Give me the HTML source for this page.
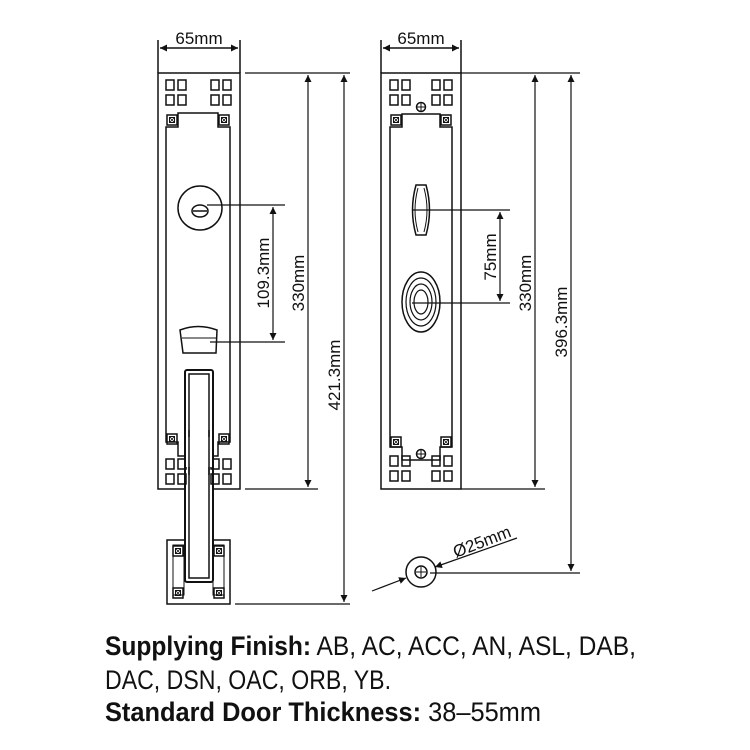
<!DOCTYPE html>
<html><head><meta charset="utf-8"><style>
html,body{margin:0;padding:0;background:#fff;}
svg{display:block;}
text{font-family:"Liberation Sans Narrow","Liberation Sans",sans-serif;fill:#111;}
</style></head><body>
<svg width="750" height="750" viewBox="0 0 750 750" xmlns="http://www.w3.org/2000/svg">
<defs>
<marker id="a" viewBox="0 0 10 10" refX="10" refY="5" markerWidth="7" markerHeight="16" orient="auto-start-reverse" markerUnits="userSpaceOnUse"><path d="M0,0 L10,5 L0,10 z" fill="#111"/></marker>
<g id="sq"><rect x="0" y="0" width="8" height="10" fill="none" stroke="#111" stroke-width="1.5"/><rect x="12" y="0" width="8" height="10" fill="none" stroke="#111" stroke-width="1.5"/><rect x="0" y="15" width="8" height="10" fill="none" stroke="#111" stroke-width="1.5"/><rect x="12" y="15" width="8" height="10" fill="none" stroke="#111" stroke-width="1.5"/></g>
<g id="scr"><rect x="0" y="0" width="10" height="10" fill="none" stroke="#111" stroke-width="1.5"/><rect x="2.5" y="2.5" width="5" height="5" fill="none" stroke="#111" stroke-width="1"/><path d="M2.5,2.5 L7.5,7.5 M7.5,2.5 L2.5,7.5" stroke="#111" stroke-width="0.8"/></g>
</defs>
<g stroke="#111" stroke-width="1.5" fill="none">
<rect x="158" y="73" width="82" height="416"/>
<line x1="158" y1="40" x2="158" y2="73"/><line x1="240" y1="40" x2="240" y2="73"/>
<line x1="160" y1="48" x2="238" y2="48" marker-start="url(#a)" marker-end="url(#a)"/>
<path d="M166,442 L166,127 L178,127 L178,113 L218,113 L218,127 L230,127 L230,442 L218,442 L218,456 L178,456 L178,442 Z"/>
<circle cx="200" cy="208" r="22"/>
<ellipse cx="200" cy="211" rx="8" ry="6"/>
<line x1="193" y1="211" x2="207" y2="211"/>
<line x1="207" y1="205" x2="285" y2="205" stroke-width="1.2"/>
<path d="M180,330 Q198,323 217,330 L216,353 L183,353 Z"/>
<line x1="182" y1="338" x2="216" y2="338" stroke-width="1"/>
<line x1="210" y1="342" x2="285" y2="342" stroke-width="1.2"/>
<line x1="273" y1="207" x2="273" y2="340" marker-start="url(#a)" marker-end="url(#a)" stroke-width="1.2"/>
<line x1="245" y1="73" x2="350" y2="73" stroke-width="1.2"/>
<line x1="245" y1="489" x2="318" y2="489" stroke-width="1.2"/>
<line x1="308" y1="75" x2="308" y2="487" marker-start="url(#a)" marker-end="url(#a)" stroke-width="1.2"/>
<line x1="235" y1="604" x2="350" y2="604" stroke-width="1.2"/>
<line x1="344" y1="75" x2="344" y2="602" marker-start="url(#a)" marker-end="url(#a)" stroke-width="1.2"/>
<rect x="167" y="540" width="63" height="64" fill="#fff"/>
<path d="M173,545 L184,545 L184,595 L173,595 Z M213,545 L224,545 L224,595 L213,595 Z" stroke-width="1"/>
<rect x="185" y="370" width="28" height="212" rx="2" fill="#fff" stroke-width="2"/>
<rect x="189" y="374" width="20" height="204" fill="#fff"/>
</g>
<use href="#sq" x="166" y="80"/><use href="#sq" x="211" y="80"/>
<use href="#sq" x="166" y="459"/><use href="#sq" x="211" y="459"/>
<use href="#scr" x="167" y="115"/><use href="#scr" x="219" y="115"/>
<use href="#scr" x="167" y="434"/><use href="#scr" x="219" y="434"/>
<use href="#scr" x="173" y="546"/><use href="#scr" x="214" y="546"/>
<use href="#scr" x="173" y="588"/><use href="#scr" x="214" y="588"/>
<rect x="185" y="437" width="28" height="30" fill="#fff"/>
<g stroke="#111" fill="none"><line x1="185" y1="430" x2="185" y2="475" stroke-width="2"/><line x1="213" y1="430" x2="213" y2="475" stroke-width="2"/><line x1="189" y1="430" x2="189" y2="475" stroke-width="1.5"/><line x1="209" y1="430" x2="209" y2="475" stroke-width="1.5"/></g>

<g stroke="#111" stroke-width="1.5" fill="none">
<rect x="381" y="73" width="80" height="416"/>
<line x1="381" y1="40" x2="381" y2="73"/><line x1="461" y1="40" x2="461" y2="73"/>
<line x1="383" y1="48" x2="459" y2="48" marker-start="url(#a)" marker-end="url(#a)"/>
<path d="M390,447 L390,127 L402,127 L402,114 L440,114 L440,127 L452,127 L452,447 L440,447 L440,460 L402,460 L402,447 Z"/>
<circle cx="421" cy="107" r="4.5"/><path d="M416.5,107 h9 M421,102.5 v9" stroke-width="1"/>
<circle cx="421" cy="454" r="4.5"/><path d="M416.5,454 h9 M421,449.5 v9" stroke-width="1"/>
<path d="M416,185 L426,185 Q433,210 426,235 L416,235 Q409,210 416,185 Z"/>
<path d="M418,188 Q412,210 418,232 M424,188 Q430,210 424,232" stroke-width="1"/>
<line x1="412" y1="210" x2="510" y2="210" stroke-width="1.2"/>
<line x1="500" y1="212" x2="500" y2="301" marker-start="url(#a)" marker-end="url(#a)" stroke-width="1.2"/>
<ellipse cx="421" cy="302" rx="19" ry="30"/>
<ellipse cx="421" cy="302" rx="15" ry="24" stroke-width="1.2"/>
<ellipse cx="421" cy="302" rx="11" ry="18" stroke-width="1.2"/>
<ellipse cx="421" cy="302" rx="7" ry="12" stroke-width="1.2"/>
<line x1="412" y1="303" x2="510" y2="303" stroke-width="1.2"/>
<line x1="461" y1="73" x2="580" y2="73" stroke-width="1.2"/>
<line x1="461" y1="489" x2="545" y2="489" stroke-width="1.2"/>
<line x1="535" y1="75" x2="535" y2="487" marker-start="url(#a)" marker-end="url(#a)" stroke-width="1.2"/>
<line x1="430" y1="573" x2="580" y2="573" stroke-width="1.2"/>
<line x1="571" y1="75" x2="571" y2="571" marker-start="url(#a)" marker-end="url(#a)" stroke-width="1.2"/>
<circle cx="421" cy="572" r="15"/>
<circle cx="421" cy="572" r="6"/>
<path d="M416,572 h10 M421,567 v10" stroke-width="1"/>
<line x1="372" y1="591" x2="406" y2="578" marker-end="url(#a)" stroke-width="1.2"/>
<line x1="517" y1="538" x2="435" y2="567" marker-end="url(#a)" stroke-width="1.2"/>
</g>
<use href="#sq" x="390" y="80"/><use href="#sq" x="432" y="80"/>
<use href="#sq" x="390" y="456"/><use href="#sq" x="432" y="456"/>
<use href="#scr" x="391" y="115"/><use href="#scr" x="441" y="115"/>
<use href="#scr" x="391" y="437"/><use href="#scr" x="441" y="437"/>

<g font-size="17" style="font-family:'Liberation Sans',sans-serif">
<text x="199" y="44" text-anchor="middle" style="font-family:'Liberation Sans',sans-serif">65mm</text>
<text x="421" y="44" text-anchor="middle" style="font-family:'Liberation Sans',sans-serif">65mm</text>
<text transform="translate(269,273) rotate(-90)" text-anchor="middle" style="font-family:'Liberation Sans',sans-serif">109.3mm</text>
<text transform="translate(304,283) rotate(-90)" text-anchor="middle" style="font-family:'Liberation Sans',sans-serif">330mm</text>
<text transform="translate(340,375) rotate(-90)" text-anchor="middle" style="font-family:'Liberation Sans',sans-serif">421.3mm</text>
<text transform="translate(496,257) rotate(-90)" text-anchor="middle" style="font-family:'Liberation Sans',sans-serif">75mm</text>
<text transform="translate(531,283) rotate(-90)" text-anchor="middle" style="font-family:'Liberation Sans',sans-serif">330mm</text>
<text transform="translate(567,322) rotate(-90)" text-anchor="middle" style="font-family:'Liberation Sans',sans-serif">396.3mm</text>
<text transform="translate(484,547) rotate(-21)" text-anchor="middle" style="font-family:'Liberation Sans',sans-serif">Ø25mm</text>
</g>
<g font-size="27">
<text x="105" y="655" textLength="531" lengthAdjust="spacingAndGlyphs"><tspan font-weight="bold">Supplying Finish:</tspan> AB, AC, ACC, AN, ASL, DAB,</text>
<text x="105" y="689" textLength="286" lengthAdjust="spacingAndGlyphs">DAC, DSN, OAC, ORB, YB.</text>
<text x="105" y="721" textLength="436" lengthAdjust="spacingAndGlyphs"><tspan font-weight="bold">Standard Door Thickness:</tspan> 38–55mm</text>
</g>
</svg>
</body></html>
